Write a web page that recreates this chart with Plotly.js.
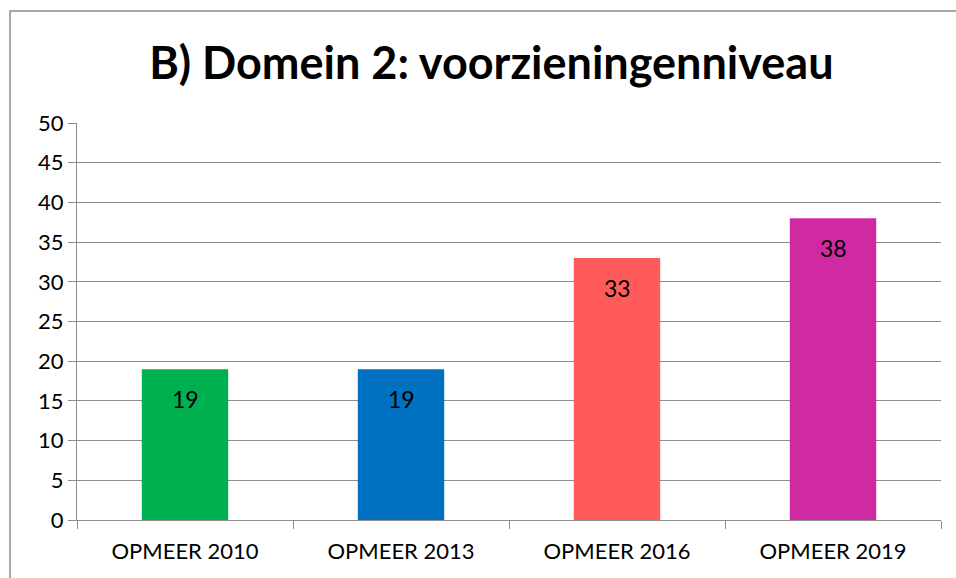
<!DOCTYPE html>
<html>
<head>
<meta charset="utf-8">
<script src="https://cdn.plot.ly/plotly-3.0.1.min.js"></script>
<style>
html,body{margin:0;padding:0;background:#fff;}
#chart{width:956px;height:578px;}
</style>
</head>
<body>
<div id="chart"></div>
<script>
const categories = ["OPMEER 2010", "OPMEER 2013", "OPMEER 2016", "OPMEER 2019"];
const values = [19, 19, 33, 38];
const barColors = ["#00B050", "#0070C0", "#FF5B5B", "#D02AA3"];
const yTicks = [0, 5, 10, 15, 20, 25, 30, 35, 40, 45, 50];

const font = "Lato, 'Open Sans', sans-serif";

const trace = {
  type: "bar",
  x: categories,
  y: values,
  width: 0.4,
  marker: {color: barColors, line: {width: 0}},
  hoverinfo: "x+y"
};

const annotations = categories.map((c, i) => ({
  x: c, y: values[i], xref: "x", yref: "y",
  text: String(values[i]), showarrow: false,
  yshift: -30,
  font: {family: font, size: 23, color: "#000"}
}));

const layout = {
  width: 956, height: 578,
  margin: {l: 77, r: 15, t: 123, b: 58},
  paper_bgcolor: "#fff", plot_bgcolor: "#fff",
  showlegend: false,
  title: {
    text: "<b>B) Domein 2: voorzieningenniveau</b>",
    font: {family: font, size: 45, color: "#000"},
    x: 0.514, xanchor: "center", y: 0.89, yanchor: "middle"
  },
  xaxis: {
    type: "category",
    showgrid: false,
    showline: true, linecolor: "#8c8c8c", linewidth: 1,
    ticks: "outside", tickson: "boundaries", ticklen: 8, tickcolor: "#8c8c8c",
    tickfont: {family: font, size: 22, color: "#000"},
    ticklabelstandoff: 12,
    fixedrange: true
  },
  yaxis: {
    range: [0, 50],
    tickvals: yTicks,
    showgrid: true, gridcolor: "#8c8c8c", gridwidth: 1,
    showline: true, linecolor: "#8c8c8c", linewidth: 1,
    ticks: "outside", ticklen: 8, tickcolor: "#8c8c8c",
    tickfont: {family: font, size: 22, color: "#000"},
    zeroline: false,
    fixedrange: true
  },
  annotations: annotations,
  shapes: [{
    type: "rect", xref: "paper", yref: "paper",
    x0: -0.0775, x1: 1.03, y0: -0.2, y1: 1.282,
    line: {color: "#8c8c8c", width: 1.5}, fillcolor: "rgba(0,0,0,0)",
    layer: "below"
  }]
};

Plotly.newPlot("chart", [trace], layout, {displayModeBar: false, staticPlot: true});
</script>
</body>
</html>
